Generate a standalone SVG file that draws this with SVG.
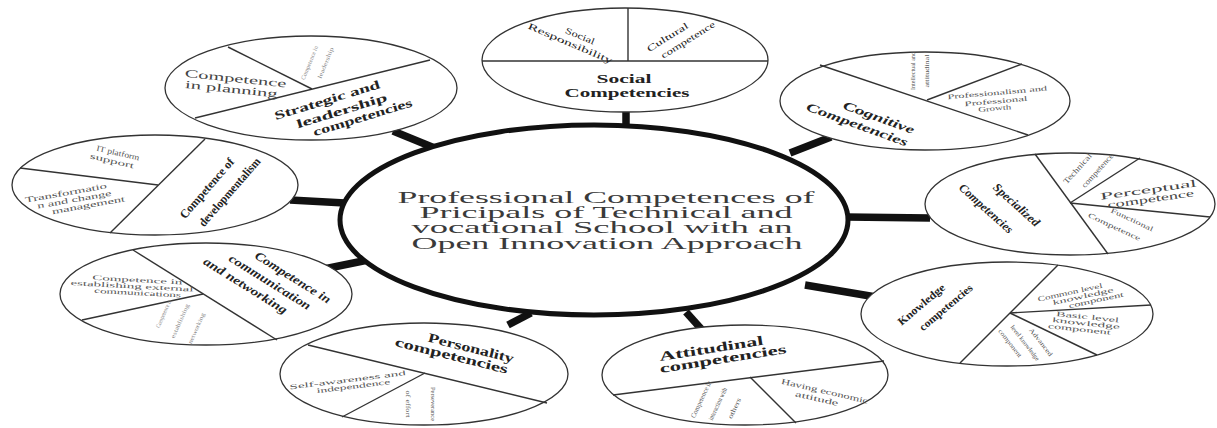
<svg xmlns="http://www.w3.org/2000/svg" width="1217" height="428" viewBox="0 0 1217 428">
<style>
.bg{fill:#fff}
.stub{stroke:#111;stroke-width:7.5;stroke-linecap:butt;fill:none}
.core{fill:#fff;stroke:#111;stroke-width:5}
.sat{fill:#fff;stroke:#333;stroke-width:1.3}
.div{stroke:#333;stroke-width:1.4}
text{font-family:"Liberation Serif","Times New Roman",serif;text-anchor:middle;fill:#222}
.ct{font-size:16px;fill:#3a3a3a}
.b{font-weight:bold}
.bi{font-weight:bold;font-style:italic}
.m{fill:#444}
.s{fill:#555}
.f{fill:#888}
</style>
<rect class="bg" width="1217" height="428"/>
<g id="connectors">
<line class="stub" x1="626" y1="112" x2="626" y2="127"/>
<line class="stub" x1="393" y1="131" x2="437" y2="149"/>
<line class="stub" x1="790" y1="153" x2="831" y2="137"/>
<line class="stub" x1="846" y1="217" x2="930" y2="218"/>
<line class="stub" x1="805" y1="285" x2="876" y2="297"/>
<line class="stub" x1="686" y1="312" x2="703" y2="331"/>
<line class="stub" x1="508" y1="325" x2="531" y2="313"/>
<line class="stub" x1="324" y1="269" x2="368" y2="260"/>
<line class="stub" x1="290" y1="200" x2="345" y2="203"/>
</g>
<g id="center">
<ellipse class="core" cx="594" cy="220" rx="254" ry="95"/>
<text class="ct" x="606" y="203" textLength="417" lengthAdjust="spacingAndGlyphs">Professional Competences of</text>
<text class="ct" x="606" y="218" textLength="373" lengthAdjust="spacingAndGlyphs">Pricipals of Technical and</text>
<text class="ct" x="602" y="233" textLength="381" lengthAdjust="spacingAndGlyphs">vocational School with an</text>
<text class="ct" x="607" y="249" textLength="391" lengthAdjust="spacingAndGlyphs">Open Innovation Approach</text>
</g>
<g id="social">
<ellipse class="sat" cx="625" cy="60" rx="143" ry="52"/>
<line class="div" x1="482" y1="61" x2="768" y2="61"/>
<line class="div" x1="628" y1="8" x2="628" y2="61"/>
<text class="b" x="624" y="83" font-size="13" textLength="55" lengthAdjust="spacingAndGlyphs">Social</text>
<text class="b" x="627" y="97" font-size="13" textLength="125" lengthAdjust="spacingAndGlyphs">Competencies</text>
<g transform="translate(574,40) rotate(23)">
<text x="4" y="-3" font-size="9" textLength="31" lengthAdjust="spacingAndGlyphs">Social</text>
<text x="-2" y="7.5" font-size="9" textLength="91" lengthAdjust="spacingAndGlyphs">Responsibility</text>
</g>
<g transform="translate(678,39) rotate(-32)">
<text x="-8" y="-4" font-size="9" textLength="47" lengthAdjust="spacingAndGlyphs">Cultural</text>
<text x="8" y="9" font-size="9" textLength="62" lengthAdjust="spacingAndGlyphs">competence</text>
</g>
</g>
<g id="strategic">
<ellipse class="sat" cx="311" cy="88" rx="146" ry="52"/>
<line class="div" x1="195" y1="118" x2="430" y2="60"/>
<line class="div" x1="228" y1="47" x2="312" y2="89"/>
<g transform="translate(234,84) rotate(6)">
<text class="m" x="1" y="-2" font-size="11" textLength="102" lengthAdjust="spacingAndGlyphs">Competence</text>
<text class="m" x="-2" y="9" font-size="11" textLength="93" lengthAdjust="spacingAndGlyphs">in planning</text>
</g>
<g transform="translate(318,63) rotate(-68)">
<text class="f" x="-3" y="-6" font-size="6" textLength="36" lengthAdjust="spacingAndGlyphs">Competence in</text>
<text class="f" x="3" y="9" font-size="6" textLength="33" lengthAdjust="spacingAndGlyphs">leadership</text>
</g>
<g transform="translate(344,111) rotate(-17)">
<text class="b" x="-13" y="-11.4" font-size="12" textLength="110" lengthAdjust="spacingAndGlyphs">Strategic and</text>
<text class="b" x="-2" y="3" font-size="12" textLength="94" lengthAdjust="spacingAndGlyphs">leadership</text>
<text class="b" x="16" y="15.5" font-size="12" textLength="103" lengthAdjust="spacingAndGlyphs">competencies</text>
</g>
</g>
<g id="cognitive">
<ellipse class="sat" cx="925" cy="101" rx="145" ry="49"/>
<line class="div" x1="820" y1="65" x2="1028" y2="135"/>
<line class="div" x1="927" y1="100" x2="1022" y2="64"/>
<g transform="translate(868,121) rotate(20)">
<text class="bi" x="9" y="-3" font-size="12" textLength="75" lengthAdjust="spacingAndGlyphs">Cognitive</text>
<text class="bi" x="-9" y="11" font-size="12" textLength="107" lengthAdjust="spacingAndGlyphs">Competencies</text>
</g>
<g transform="translate(920,71) rotate(-90)">
<text class="s" x="0" y="-5" font-size="7" textLength="38" lengthAdjust="spacingAndGlyphs">Intellectual and</text>
<text class="s" x="0" y="9" font-size="7" textLength="33" lengthAdjust="spacingAndGlyphs">attitudinal</text>
</g>
<g transform="translate(996,101) rotate(-5)">
<text class="s" x="2" y="-6" font-size="7" textLength="100" lengthAdjust="spacingAndGlyphs">Professionalism and</text>
<text class="s" x="0" y="2.5" font-size="7" textLength="63" lengthAdjust="spacingAndGlyphs">Professional</text>
<text class="s" x="-2" y="9.5" font-size="7" textLength="33" lengthAdjust="spacingAndGlyphs">Growth</text>
</g>
</g>
<g id="specialized">
<ellipse class="sat" cx="1070" cy="204" rx="145" ry="51"/>
<line class="div" x1="1035" y1="154" x2="1108" y2="254"/>
<line class="div" x1="1070" y1="203" x2="1140" y2="158"/>
<line class="div" x1="1070" y1="203" x2="1210" y2="217"/>
<g transform="translate(1001,207) rotate(42)">
<text class="bi" x="10" y="-8" font-size="12" textLength="58" lengthAdjust="spacingAndGlyphs">Specialized</text>
<text class="bi" x="-10" y="15" font-size="12" textLength="68" lengthAdjust="spacingAndGlyphs">Competencies</text>
</g>
<g transform="translate(1088,170) rotate(-48)">
<text class="s" x="-6" y="-6" font-size="8" textLength="38" lengthAdjust="spacingAndGlyphs">Technical</text>
<text class="s" x="6" y="10" font-size="8" textLength="43" lengthAdjust="spacingAndGlyphs">competence</text>
</g>
<g transform="translate(1149,194) rotate(-8)">
<text class="m" x="0" y="-1" font-size="10" textLength="97" lengthAdjust="spacingAndGlyphs">Perceptual</text>
<text class="m" x="1" y="8.5" font-size="10" textLength="87" lengthAdjust="spacingAndGlyphs">competence</text>
</g>
<g transform="translate(1123,223.5) rotate(25)">
<text class="s" x="6.5" y="-5" font-size="7" textLength="46" lengthAdjust="spacingAndGlyphs">Functional</text>
<text class="s" x="-6.5" y="9" font-size="7" textLength="57" lengthAdjust="spacingAndGlyphs">Competence</text>
</g>
</g>
<g id="knowledge">
<ellipse class="sat" cx="1007" cy="314" rx="146" ry="52"/>
<line class="div" x1="960" y1="363" x2="1058" y2="265"/>
<line class="div" x1="1010" y1="313" x2="1151" y2="305"/>
<line class="div" x1="1010" y1="313" x2="1097" y2="355"/>
<g transform="translate(933,306) rotate(-40)">
<text class="b" x="-8" y="-5" font-size="11" textLength="58" lengthAdjust="spacingAndGlyphs">Knowledge</text>
<text class="b" x="9" y="13" font-size="11" textLength="66" lengthAdjust="spacingAndGlyphs">competencies</text>
</g>
<g transform="translate(1083,296) rotate(-12)">
<text class="s" x="-12" y="-4" font-size="7" textLength="66" lengthAdjust="spacingAndGlyphs">Common level</text>
<text class="s" x="0" y="2.5" font-size="7" textLength="62" lengthAdjust="spacingAndGlyphs">knowledge</text>
<text class="s" x="12" y="9" font-size="7" textLength="56" lengthAdjust="spacingAndGlyphs">component</text>
</g>
<g transform="translate(1085,323) rotate(6)">
<text class="s" x="2" y="-4" font-size="7" textLength="63" lengthAdjust="spacingAndGlyphs">Basic level</text>
<text class="s" x="1" y="2.5" font-size="7" textLength="68" lengthAdjust="spacingAndGlyphs">knowledge</text>
<text class="s" x="-5" y="9" font-size="7" textLength="63" lengthAdjust="spacingAndGlyphs">component</text>
</g>
<g transform="translate(1025,343) rotate(52)">
<text class="s" x="9" y="-11" font-size="6.5" textLength="34" lengthAdjust="spacingAndGlyphs">Advanced</text>
<text class="s" x="0" y="2" font-size="6.5" textLength="43" lengthAdjust="spacingAndGlyphs">level knowledge</text>
<text class="s" x="-9" y="14" font-size="6.5" textLength="34" lengthAdjust="spacingAndGlyphs">component</text>
</g>
</g>
<g id="attitudinal">
<ellipse class="sat" cx="745" cy="375" rx="143" ry="50"/>
<line class="div" x1="613" y1="395" x2="884" y2="361"/>
<line class="div" x1="750" y1="377" x2="796" y2="423"/>
<g transform="translate(717,353) rotate(-9)">
<text class="b" x="-5" y="-1" font-size="13" textLength="105" lengthAdjust="spacingAndGlyphs">Attitudinal</text>
<text class="b" x="5" y="11" font-size="13" textLength="128" lengthAdjust="spacingAndGlyphs">competencies</text>
</g>
<g transform="translate(821,394) rotate(13)">
<text class="s" x="3" y="-1" font-size="8" textLength="89" lengthAdjust="spacingAndGlyphs">Having economic</text>
<text class="s" x="-3" y="8" font-size="8" textLength="44" lengthAdjust="spacingAndGlyphs">attitude</text>
</g>
<g transform="translate(718,404) rotate(-65)">
<text class="s" x="-3" y="-15" font-size="7" textLength="40" lengthAdjust="spacingAndGlyphs">Competence in</text>
<text class="s" x="0" y="2" font-size="7" textLength="35" lengthAdjust="spacingAndGlyphs">interaction with</text>
<text class="s" x="3" y="19" font-size="7" textLength="22" lengthAdjust="spacingAndGlyphs">others</text>
</g>
</g>
<g id="personality">
<ellipse class="sat" cx="424" cy="374" rx="144" ry="51"/>
<line class="div" x1="308" y1="345" x2="547" y2="403"/>
<line class="div" x1="425" y1="373" x2="342" y2="417"/>
<g transform="translate(461,351) rotate(14)">
<text class="b" x="9" y="-1" font-size="13" textLength="88" lengthAdjust="spacingAndGlyphs">Personality</text>
<text class="b" x="-8" y="11" font-size="13" textLength="116" lengthAdjust="spacingAndGlyphs">competencies</text>
</g>
<g transform="translate(350,383) rotate(-7)">
<text class="s" x="-2" y="-1" font-size="7" textLength="117" lengthAdjust="spacingAndGlyphs">Self-awareness and</text>
<text class="s" x="3" y="6" font-size="7" textLength="74" lengthAdjust="spacingAndGlyphs">independence</text>
</g>
<g transform="translate(420,404) rotate(90)">
<text class="s" x="0" y="-11" font-size="7" textLength="34" lengthAdjust="spacingAndGlyphs">Perseverance</text>
<text class="s" x="0" y="14" font-size="7" textLength="27" lengthAdjust="spacingAndGlyphs">of effort</text>
</g>
</g>
<g id="communication">
<ellipse class="sat" cx="206" cy="294" rx="146" ry="51"/>
<line class="div" x1="133" y1="250" x2="277" y2="340"/>
<line class="div" x1="203" y1="294" x2="82" y2="320"/>
<g transform="translate(270,282) rotate(32)">
<text class="bi" x="17" y="-12" font-size="12" textLength="87" lengthAdjust="spacingAndGlyphs">Competence in</text>
<text class="bi" x="0" y="4" font-size="12" textLength="94" lengthAdjust="spacingAndGlyphs">communication</text>
<text class="bi" x="-19" y="20" font-size="12" textLength="96" lengthAdjust="spacingAndGlyphs">and networking</text>
</g>
<g transform="translate(135,286) rotate(3)">
<text class="s" x="2" y="-4" font-size="7" textLength="90" lengthAdjust="spacingAndGlyphs">Competence in</text>
<text class="s" x="-3" y="2.5" font-size="7" textLength="123" lengthAdjust="spacingAndGlyphs">establishing external</text>
<text class="s" x="3" y="9" font-size="7" textLength="87" lengthAdjust="spacingAndGlyphs">communications</text>
</g>
<g transform="translate(180,321) rotate(-66)">
<text class="f" x="0" y="-16" font-size="6" textLength="30" lengthAdjust="spacingAndGlyphs">Competence in</text>
<text class="f" x="0" y="2" font-size="6" textLength="37" lengthAdjust="spacingAndGlyphs">establishing</text>
<text class="f" x="0" y="20" font-size="6" textLength="33" lengthAdjust="spacingAndGlyphs">networking</text>
</g>
</g>
<g id="developmentalism">
<ellipse class="sat" cx="155" cy="185" rx="143" ry="50"/>
<line class="div" x1="110" y1="233" x2="205" y2="139"/>
<line class="div" x1="158" y1="185" x2="20" y2="168"/>
<g transform="translate(218,190) rotate(-49)">
<text class="b" x="-6" y="-5.6" font-size="12" textLength="76" lengthAdjust="spacingAndGlyphs">Competence of</text>
<text class="b" x="6" y="14" font-size="12" textLength="87" lengthAdjust="spacingAndGlyphs">developmentalism</text>
</g>
<g transform="translate(115,157) rotate(13)">
<text class="s" x="2" y="-2" font-size="8" textLength="44" lengthAdjust="spacingAndGlyphs">IT platform</text>
<text class="s" x="-2" y="7" font-size="8" textLength="45" lengthAdjust="spacingAndGlyphs">support</text>
</g>
<g transform="translate(75,198) rotate(-10)">
<text class="s" x="-8" y="-4" font-size="8" textLength="83" lengthAdjust="spacingAndGlyphs">Transformatio</text>
<text class="s" x="-1" y="4" font-size="8" textLength="75" lengthAdjust="spacingAndGlyphs">n and change</text>
<text class="s" x="12" y="12" font-size="8" textLength="74" lengthAdjust="spacingAndGlyphs">management</text>
</g>
</g>
</svg>
